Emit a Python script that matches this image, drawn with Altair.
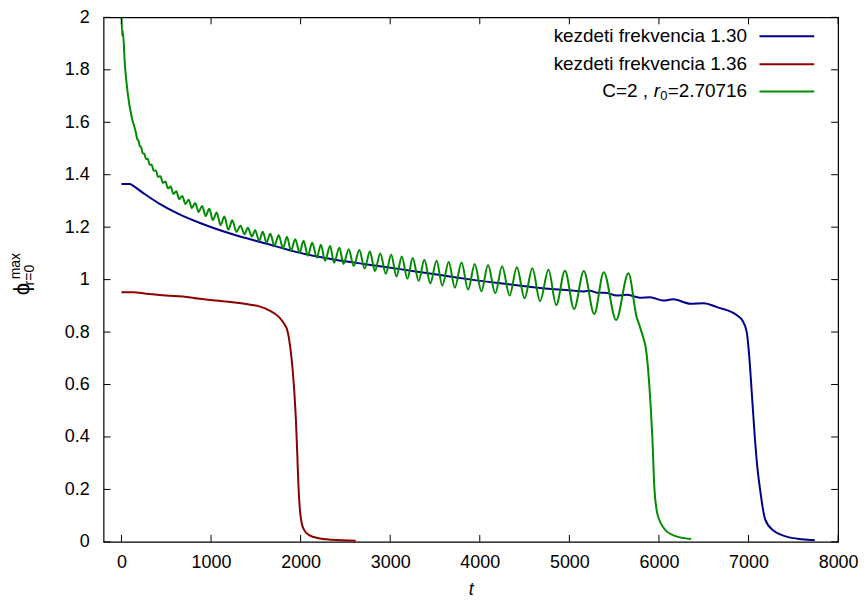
import altair as alt
import pandas as pd

# ---------------- data ----------------
blue_t = [0, 96, 111, 240, 426, 648, 870, 1240, 1611, 1981, 2352, 2722, 3092, 3462, 3648,
          3907, 4278, 4648, 5048, 5159, 5233, 5307, 5400, 5529, 5640, 5789, 5900, 6048, 6159,
          6352, 6500, 6648, 6870, 6930, 6980, 7010, 7040, 7070, 7100, 7129, 7185, 7278, 7426,
          7600, 7740]
blue_v = [1.365, 1.365, 1.362, 1.331, 1.289, 1.249, 1.217, 1.173, 1.138, 1.103, 1.078, 1.059,
          1.041, 1.022, 1.013, 1.0, 0.984, 0.969, 0.958, 0.955, 0.958, 0.950, 0.950, 0.939,
          0.942, 0.931, 0.933, 0.920, 0.925, 0.908, 0.910, 0.895, 0.864, 0.845, 0.80, 0.70,
          0.55, 0.40, 0.28, 0.20, 0.087, 0.043, 0.02, 0.01, 0.006]

red_t = [0, 129, 278, 500, 685, 870, 1056, 1240, 1426, 1537, 1648, 1759, 1826, 1851, 1885,
         1910, 1930, 1948, 1962, 1975, 1990, 2010, 2040, 2100, 2200, 2350, 2615]
red_v = [0.952, 0.952, 0.946, 0.939, 0.936, 0.927, 0.920, 0.914, 0.905, 0.898, 0.883, 0.857,
         0.826, 0.807, 0.74, 0.66, 0.57, 0.46, 0.34, 0.22, 0.13, 0.075, 0.045, 0.025, 0.014,
         0.008, 0.004]

green_t = [0, 8, 14, 40, 70, 114, 150,
           162, 175, 189, 204, 220, 237, 255, 274, 294, 315, 337, 360, 384, 409, 435, 462,
           490, 519, 549, 580, 612, 645, 679, 714, 750, 786, 823, 861, 900, 940, 980, 1021,
           1063, 1106, 1149, 1193,
           1237, 1284, 1329, 1373, 1411, 1456, 1492, 1537, 1578, 1618, 1662, 1707, 1756, 1803,
           1848, 1892, 1940, 1989, 2033, 2081, 2129, 2181, 2226, 2273, 2329, 2373, 2433, 2478,
           2537, 2592, 2656, 2714, 2773, 2829, 2889, 2951, 3011, 3070, 3129, 3192, 3251, 3318,
           3381, 3448, 3518, 3581, 3653, 3722, 3796, 3870, 3944, 4018, 4092, 4173, 4249, 4333,
           4414, 4500, 4587, 4673, 4767, 4853, 4951, 5053, 5161, 5278, 5384, 5522, 5659,
           5751, 5789, 5833, 5851, 5892, 5926, 5950, 5975, 6000, 6056, 6167, 6359]
green_v = [2.02, 1.93, 1.95, 1.81, 1.71, 1.62, 1.575,
           1.559, 1.537, 1.531, 1.510, 1.505, 1.482, 1.480, 1.460, 1.460, 1.438, 1.438, 1.415,
           1.416, 1.392, 1.394, 1.369, 1.374, 1.348, 1.355, 1.327, 1.337, 1.307, 1.319, 1.288,
           1.305, 1.273, 1.292, 1.258, 1.281, 1.243, 1.270, 1.227, 1.256, 1.208, 1.241, 1.190,
           1.226, 1.182, 1.205, 1.173, 1.198, 1.164, 1.188, 1.148, 1.183, 1.141, 1.175, 1.129,
           1.169, 1.120, 1.163, 1.110, 1.154, 1.103, 1.148, 1.091, 1.141, 1.084, 1.133, 1.072,
           1.128, 1.064, 1.122, 1.060, 1.116, 1.052, 1.113, 1.042, 1.107, 1.033, 1.100, 1.022,
           1.095, 1.012, 1.088, 1.003, 1.082, 0.995, 1.076, 0.986, 1.072, 0.977, 1.067, 0.969,
           1.065, 0.962, 1.060, 0.955, 1.056, 0.948, 1.051, 0.939, 1.047, 0.929, 1.043, 0.918,
           1.038, 0.903, 1.034, 0.888, 1.033, 0.869, 1.028, 0.846, 1.024,
           0.857, 0.819, 0.769, 0.744, 0.60, 0.40, 0.20, 0.12, 0.087, 0.052, 0.024, 0.011]

series_names = ["kezdeti frekvencia 1.30", "kezdeti frekvencia 1.36", "C=2 , r0=2.70716"]
series_colors = ["#00008b", "#8b0000", "#008b00"]

x_ticks = [0, 1000, 2000, 3000, 4000, 5000, 6000, 7000, 8000]
y_ticks = [0, 0.2, 0.4, 0.6, 0.8, 1, 1.2, 1.4, 1.6, 1.8, 2]

# ---------------- layout constants ----------------
W, H = 738, 527
FONT = "Liberation Sans"
FS = 18
KFS = 19
TICK = 7

rows = []
for name, ts, vs in zip(series_names, [blue_t, red_t, green_t], [blue_v, red_v, green_v]):
    for t, v in zip(ts, vs):
        rows.append({"series": name, "t": t, "v": v})
df = pd.DataFrame(rows)

xs = alt.Scale(domain=[-200, 8000], nice=False, zero=False)
ys = alt.Scale(domain=[0, 2], nice=False, zero=False)

x_axis = alt.Axis(values=x_ticks, format="d", ticks=False, domain=False, grid=False,
                  labelFont=FONT, labelFontSize=FS, labelColor="black",
                  labelPadding=12, labelFlush=False, title="t",
                  titleFont=FONT, titleFontSize=FS, titleFontStyle="italic",
                  titleFontWeight="normal", titleColor="black", titlePadding=9)
y_axis = alt.Axis(values=y_ticks, format="~g", ticks=False, domain=False, grid=False,
                  labelFont=FONT, labelFontSize=FS, labelColor="black",
                  labelPadding=14.5, labelFlush=False, title="")

lines = alt.Chart(df).mark_line(strokeWidth=2, clip=True, interpolate="monotone").encode(
    x=alt.X("t:Q", scale=xs, axis=x_axis),
    y=alt.Y("v:Q", scale=ys, axis=y_axis),
    color=alt.Color("series:N", scale=alt.Scale(domain=series_names, range=series_colors),
                    legend=None),
    detail="series:N",
)

xt = pd.DataFrame({"t": x_ticks})
yt = pd.DataFrame({"v": y_ticks})
tick_layers = [
    alt.Chart(xt).mark_rule(color="black", strokeWidth=1).encode(
        x=alt.X("t:Q", scale=xs, axis=x_axis), y=alt.value(H), y2=alt.value(H - TICK)),
    alt.Chart(xt).mark_rule(color="black", strokeWidth=1).encode(
        x=alt.X("t:Q", scale=xs, axis=x_axis), y=alt.value(0), y2=alt.value(TICK)),
    alt.Chart(yt).mark_rule(color="black", strokeWidth=1).encode(
        y=alt.Y("v:Q", scale=ys, axis=y_axis), x=alt.value(0), x2=alt.value(TICK)),
    alt.Chart(yt).mark_rule(color="black", strokeWidth=1).encode(
        y=alt.Y("v:Q", scale=ys, axis=y_axis), x=alt.value(W), x2=alt.value(W - TICK)),
]

# ---------------- key (gnuplot style, top right) ----------------
one = pd.DataFrame({"k": [0]})
key_x_text = 646.5
key_x1, key_x2 = 659, 714
key_rows = [19, 47, 74.5]

key_layers = []
for i, (name, col) in enumerate(zip(series_names, series_colors)):
    key_layers.append(
        alt.Chart(one).mark_rule(strokeWidth=2, color=col).encode(
            x=alt.value(key_x1), x2=alt.value(key_x2), y=alt.value(key_rows[i])))
    if i < 2:
        key_layers.append(
            alt.Chart(one).mark_text(text=name, align="right", baseline="middle", font=FONT,
                                     fontSize=KFS, color="black").encode(
                x=alt.value(key_x_text), y=alt.value(key_rows[i])))

third_parts = [
    ("=2.70716", key_x_text, key_rows[2], KFS, "normal"),
    ("0", key_x_text - 80, key_rows[2] + 5, 13, "normal"),
    ("r", key_x_text - 87.5, key_rows[2], KFS, "italic"),
    ("C=2 ,", key_x_text - 99.5, key_rows[2], KFS, "normal"),
]
for s, px, py, fs, st in third_parts:
    key_layers.append(
        alt.Chart(one).mark_text(text=s, align="right", baseline="middle", font=FONT,
                                 fontSize=fs, fontStyle=st, color="black").encode(
            x=alt.value(px), y=alt.value(py)))

# ---------------- y title: phi^max_{r=0}, rotated ----------------
ytitle_parts = [
    ("\u03d5", -81.5, 273, 22),
    ("max", -87.5, 250, 14),
    ("r=0", -74, 259, 14),
]
ytitle_layers = [
    alt.Chart(one).mark_text(text=s, angle=270, align="center", baseline="middle", font=FONT,
                             fontSize=fs, color="black").encode(x=alt.value(px), y=alt.value(py))
    for s, px, py, fs in ytitle_parts
]

chart = alt.layer(lines, *tick_layers, *key_layers, *ytitle_layers).properties(
    width=W, height=H,
    autosize=alt.AutoSizeParams(type="none"),
    padding={"left": 96, "top": 8, "right": 20, "bottom": 58},
    background="white",
).configure_view(stroke="black", strokeWidth=1.2)

chart.save("out.html", embed_options={"renderer": "svg", "actions": False})
